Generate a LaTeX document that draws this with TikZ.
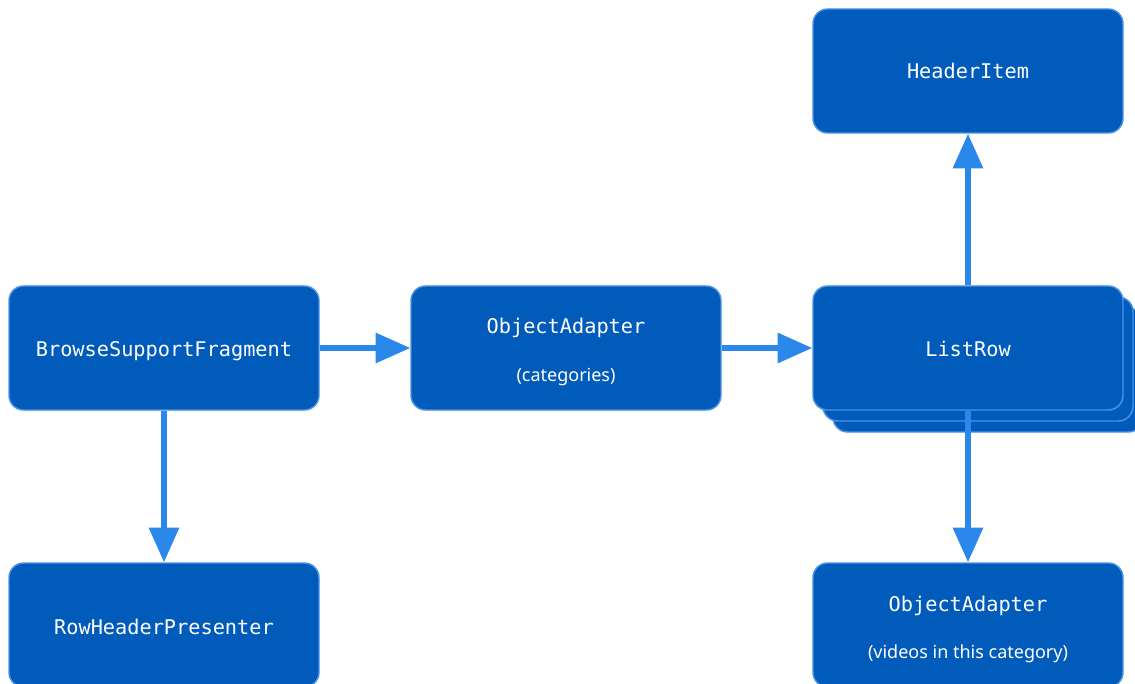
\documentclass[tikz,border=0pt]{standalone}
\usepackage{fontspec}
\setmainfont{Noto Sans}
\setmonofont{DejaVu Sans Mono}
\usetikzlibrary{arrows.meta}
\definecolor{boxfill}{HTML}{005BBB}
\definecolor{boxedge}{HTML}{4A92E6}
\definecolor{arrowblue}{HTML}{2B88EB}
\tikzset{
  block/.style={draw=boxedge, line width=1.1pt, fill=boxfill, rounded corners=11pt,
    minimum width=232.5pt, minimum height=93pt, inner sep=0pt},
  title/.style={anchor=base, inner sep=0pt, text=white, font=\fontsize{15.2}{18}\ttfamily},
  subtitle/.style={anchor=base, inner sep=0pt, text=white, font=\fontsize{13.5}{16}\rmfamily},
  link/.style={draw=arrowblue, line width=4pt,
    -{Triangle[length=26pt, width=22pt]}}
}
\begin{document}
\begin{tikzpicture}[x=0.75pt, y=-0.75pt]
  \useasboundingbox (0,0) rectangle (1135,684);
  % stacked copies behind the list row
  \node[block] (lrC) at (988,370) {};
  \node[block] (lrB) at (978,359) {};
  % boxes
  \node[block] (header) at (968,71) {};
  \node[block] (browse) at (164,348) {};
  \node[block] (cats) at (566,348) {};
  \node[block] (listrow) at (968,348) {};
  \node[block] (rowhdr) at (164,625) {};
  \node[block] (videos) at (968,625) {};
  % box texts
  \node[title] (headerT) at ([yshift=-6pt]header.center) {HeaderItem};
  \node[title] (browseT) at ([yshift=-6pt]browse.center) {BrowseSupportFragment};
  \node[title] (catsT) at ([yshift=10.5pt]cats.center) {ObjectAdapter};
  \node[subtitle] (catsS) at ([yshift=-24.8pt]cats.center) {(categories)};
  \node[title] (listrowT) at ([yshift=-6pt]listrow.center) {ListRow};
  \node[title] (rowhdrT) at ([yshift=-6.8pt]rowhdr.center) {RowHeaderPresenter};
  \node[title] (videosT) at ([yshift=10.5pt]videos.center) {ObjectAdapter};
  \node[subtitle] (videosS) at ([yshift=-24.8pt]videos.center) {(videos in this category)};
  % connectors
  \draw[link] (browse.east) -- (cats.west);
  \draw[link] (cats.east) -- (listrow.west);
  \draw[link] (listrow.north) -- (header.south);
  \draw[link] (listrow.south) -- (videos.north);
  \draw[link] (browse.south) -- (rowhdr.north);
\end{tikzpicture}
\end{document}
